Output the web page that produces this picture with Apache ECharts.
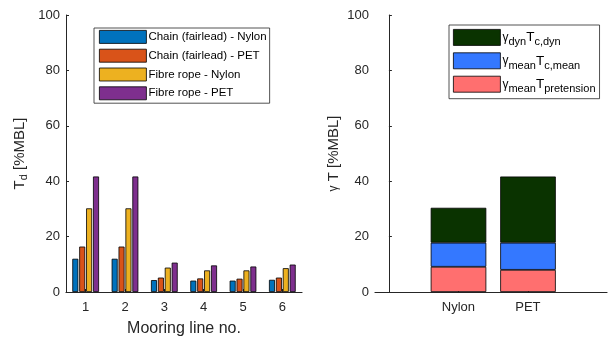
<!DOCTYPE html>
<html>
<head>
<meta charset="utf-8">
<script src="https://cdn.jsdelivr.net/npm/echarts@6/dist/echarts.min.js"></script>
<style>html,body{margin:0;padding:0;background:#fff;}#c{width:610px;height:340px;}</style>
</head>
<body>
<div id="c"></div>
<script>
// ---- data ----
const lineNumbers = ['1', '2', '3', '4', '5', '6'];
const chainNylon = [12.0, 12.0, 4.3, 4.1, 4.1, 4.4];
const chainPET   = [16.4, 16.4, 5.2, 4.9, 4.8, 5.2];
const fibreNylon = [30.2, 30.2, 8.8, 7.8, 7.8, 8.6];
const fibrePET   = [41.7, 41.7, 10.6, 9.6, 9.2, 9.9];

const materials = ['Nylon', 'PET'];
const materialPos = [1, 2];
const pretensionPart = [9.1, 8.0];
const meanPart = [8.7, 9.8];
const dynPart = [12.6, 23.9];

const yTicks = [0, 20, 40, 60, 80, 100];

// ---- chart ----
const FONT = '"Liberation Sans", Arial, Helvetica, sans-serif';
const AX = '#262626';
const chart = echarts.init(document.getElementById('c'), null, {renderer: 'canvas'});

const leftNames = ['Chain (fairlead) - Nylon', 'Chain (fairlead) - PET', 'Fibre rope - Nylon', 'Fibre rope - PET'];
const leftColors = ['#0072BD', '#D95319', '#EDB120', '#7E2F8E'];
const leftData = [chainNylon, chainPET, fibreNylon, fibrePET];

const rightKeys = ['dyn', 'mean', 'pre'];
const rightLabels = {
  dyn: '{g|γ}{s|dyn}{n|T}{s|c,dyn}',
  mean: '{g|γ}{s|mean}{n|T}{s|c,mean}',
  pre: '{g|γ}{s|mean}{n|T}{s|pretension}'
};
const rightColors = {pre: '#FF6F6F', mean: '#3478FF', dyn: '#0A3300'};
const rightData = {pre: pretensionPart, mean: meanPart, dyn: dynPart};

const richSub = {
  n: {fontSize: 13.5, fontFamily: FONT, color: '#000'},
  g: {fontSize: 12, fontFamily: FONT, color: '#000'},
  s: {fontSize: 11, fontFamily: FONT, color: '#000', padding: [10, 0, 0, 0]}
};

function yAxisCfg(grid, name, gap) {
  return {
    type: 'value', gridIndex: grid, min: 0, max: 100, interval: 20,
    axisLine: {show: true, lineStyle: {color: AX, width: 1}},
    axisTick: {show: true, inside: true, length: 3, lineStyle: {color: AX}},
    axisLabel: {fontSize: 13, color: AX, fontFamily: FONT, margin: 6,
      customValues: yTicks},
    splitLine: {show: false},
    name: name, nameLocation: 'middle', nameGap: gap,
    nameTextStyle: {fontFamily: FONT, color: AX, fontSize: 15,
      rich: {
        n: {fontSize: 15, fontFamily: FONT, color: AX},
        g: {fontSize: 12, fontFamily: FONT, color: AX},
        s: {fontSize: 11, fontFamily: FONT, color: AX, padding: [8, 0, 0, 0]}
      }}
  };
}

const series = [];
leftNames.forEach((nm, i) => {
  series.push({
    name: nm, type: 'bar', xAxisIndex: 0, yAxisIndex: 0,
    data: leftData[i], barWidth: 6, barGap: '15%',
    itemStyle: {color: leftColors[i], borderColor: '#000', borderWidth: 0.8},
    emphasis: {disabled: true}
  });
});
['pre', 'mean', 'dyn'].forEach(k => {
  series.push({
    name: k, type: 'bar', xAxisIndex: 2, yAxisIndex: 2, stack: 'total',
    data: rightData[k],
    barWidth: 55.6,
    itemStyle: {color: rightColors[k], borderColor: '#000', borderWidth: 0.8},
    emphasis: {disabled: true}
  });
});

chart.setOption({
  animation: false,
  textStyle: {fontFamily: FONT},
  grid: [
    {left: 66, top: 15, width: 236, height: 277, outerBoundsMode: 'none', containLabel: false},
    {left: 375, top: 15, width: 232, height: 277, outerBoundsMode: 'none', containLabel: false},
    {left: 423.75, top: 15, width: 139, height: 277, outerBoundsMode: 'none', containLabel: false}
  ],
  xAxis: [
    {
      type: 'category', gridIndex: 0, data: lineNumbers,
      axisLine: {lineStyle: {color: AX, width: 1.2}},
      axisTick: {show: true, inside: true, length: 3, alignWithLabel: true, lineStyle: {color: AX}},
      axisLabel: {fontSize: 13, color: AX, fontFamily: FONT, margin: 9},
      name: 'Mooring line no.', nameLocation: 'middle', nameGap: 29,
      nameTextStyle: {fontSize: 16, color: AX, fontFamily: FONT}
    },
    {
      type: 'value', gridIndex: 1, min: -0.2, max: 3.138,
      axisLine: {show: true, onZero: false, lineStyle: {color: AX, width: 1.2}},
      axisTick: {show: true, inside: true, length: 3, customValues: materialPos, lineStyle: {color: AX}},
      axisLabel: {fontSize: 13, color: AX, fontFamily: FONT, margin: 9,
        customValues: materialPos,
        formatter: v => materials[materialPos.indexOf(Math.round(v))] || ''},
      splitLine: {show: false}
    },
    {
      type: 'category', gridIndex: 2, data: materials, show: false
    }
  ],
  yAxis: [
    yAxisCfg(0, '{n|T}{s|d}{n| [%MBL]}', 37),
    yAxisCfg(1, '{g|γ}{n| T [%MBL]}', 34),
    {type: 'value', gridIndex: 2, min: 0, max: 100, show: false, splitLine: {show: false}}
  ],
  legend: [
    {
      data: leftNames, orient: 'vertical', left: 94, top: 28,
      itemWidth: 47, itemHeight: 13, itemGap: 5, icon: 'rect',
      padding: [2, 3, 3, 5],
      backgroundColor: '#fff', borderColor: AX, borderWidth: 0.8,
      itemStyle: {borderColor: '#000', borderWidth: 0.8},
      textStyle: {fontSize: 11.5, color: '#000', fontFamily: FONT, padding: [0, 0, 0, -3]},
      selectedMode: false
    },
    {
      data: rightKeys, orient: 'vertical', left: 449, top: 25,
      itemWidth: 47, itemHeight: 16, itemGap: 4.5, icon: 'rect',
      padding: [4, 4, 4, 4],
      backgroundColor: '#fff', borderColor: AX, borderWidth: 0.8,
      itemStyle: {borderColor: '#000', borderWidth: 0.8},
      formatter: name => rightLabels[name],
      textStyle: {fontSize: 13.5, color: '#000', fontFamily: FONT, padding: [0, 0, 0, -3], rich: richSub},
      selectedMode: false
    }
  ],
  series: series
});
</script>
</body>
</html>
